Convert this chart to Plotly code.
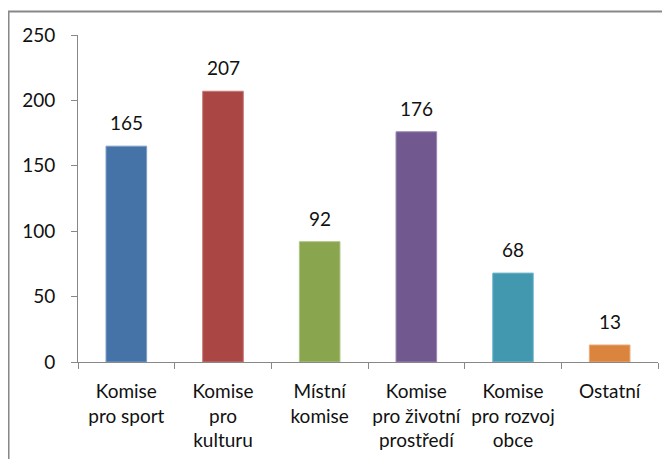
import plotly.graph_objects as go

categories = ["Komise<br>pro sport", "Komise<br>pro<br>kulturu", "Místní<br>komise",
              "Komise<br>pro životní<br>prostředí", "Komise<br>pro rozvoj<br>obce", "Ostatní"]
values = [165, 207, 92, 176, 68, 13]
colors = ["#4572A7", "#AA4643", "#89A54E", "#71588F", "#4198AF", "#DB843D"]
edge_colors = ["#7d9dc4", "#c77a78", "#afc487", "#9a87b3", "#7bbccd", "#eaa876"]
y_ticks = [0, 50, 100, 150, 200, 250]

FONT = "Lato"
fig = go.Figure()
fig.add_trace(go.Bar(
    x=categories, y=values, width=0.42,
    marker=dict(color=colors, line=dict(color=edge_colors, width=1)),
    hoverinfo="skip",
))
for c, v in zip(categories, values):
    fig.add_annotation(x=c, y=v, text=str(v), showarrow=False, yanchor="bottom",
                       yshift=10, font=dict(family=FONT, size=19, color="#111"))

fig.update_layout(
    width=662, height=451,
    margin=dict(l=70, r=12, t=27, b=97),
    paper_bgcolor="white", plot_bgcolor="white",
    showlegend=False,
    font=dict(family=FONT, size=19, color="#111"),
    xaxis=dict(type="category", range=[-0.5, 5.5], tickson="boundaries",
               automargin=False, tickangle=0, ticklabelstandoff=12,
               showline=True, linecolor="#888", linewidth=1,
               ticks="outside", ticklen=6, tickcolor="#888",
               showgrid=False, tickfont=dict(family=FONT, size=19, color="#111")),
    yaxis=dict(range=[0, 250], tickvals=y_ticks, showgrid=False, zeroline=False,
               automargin=False,
               showline=True, linecolor="#888", linewidth=1,
               ticks="outside", ticklen=6, tickcolor="#888",
               ticklabelstandoff=12,
               tickfont=dict(family=FONT, size=19, color="#111")),
    shapes=[dict(type="rect", xref="paper", yref="paper",
                 x0=-0.1198, y0=-0.6, x1=1.2, y1=1.0719,
                 line=dict(color="#888", width=2), layer="below")],
)
fig.write_html("out.html")
